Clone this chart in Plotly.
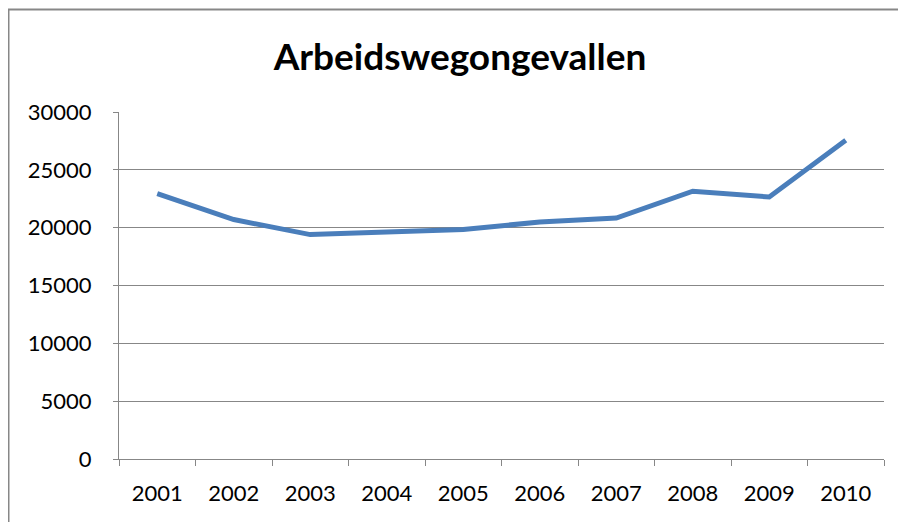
import plotly.graph_objects as go

years = ["2001", "2002", "2003", "2004", "2005", "2006", "2007", "2008", "2009", "2010"]
accidents = [22950, 20700, 19400, 19600, 19850, 20480, 20830, 23150, 22650, 27550]
y_ticks = [0, 5000, 10000, 15000, 20000, 25000, 30000]
title_text = "Arbeidswegongevallen"

W, H = 906, 522
OFF = 8  # page body margin applied by the browser
L, R, T, B = 119 - OFF, 884 - OFF, 112 - OFF, 459 - OFF
pw, ph = R - L, B - T

fig = go.Figure()
fig.add_trace(go.Scatter(
    x=years, y=accidents, mode="lines",
    line=dict(color="#4A7EBB", width=5),
    hoverinfo="x+y", showlegend=False,
))

gray = "#878787"
fig.update_layout(
    width=W, height=H,
    margin=dict(l=L, r=W - R, t=T, b=H - B, pad=0),
    paper_bgcolor="white", plot_bgcolor="white",
    font=dict(family="Lato, Carlito, Calibri, sans-serif", color="black", size=22),
    title=dict(text="<b>" + title_text + "</b>", x=(460 - OFF) / W, xref="container", xanchor="center",
               y=1 - (57 - OFF) / H, yref="container", yanchor="middle",
               font=dict(size=37, color="black")),
    xaxis=dict(type="category", tickson="boundaries", range=[-0.5, len(years) - 0.5],
               ticks="outside", ticklen=6, automargin=False, ticklabelstandoff=14,
               tickcolor=gray, tickwidth=1.3, showline=True, linecolor=gray, linewidth=1.3,
               showgrid=False, tickfont=dict(size=22)),
    yaxis=dict(range=[0, 30000], tickvals=y_ticks, ticktext=[str(v) for v in y_ticks],
               ticks="outside", ticklen=5, tickcolor=gray, tickwidth=1.3, automargin=False,
               ticklabelstandoff=17,
               showline=True, linecolor=gray, linewidth=1.3,
               showgrid=True, gridcolor=gray, gridwidth=1.3, zeroline=False,
               tickfont=dict(size=22)),
)

# outer chart border
fig.add_shape(type="rect", xref="paper", yref="paper",
              x0=(8.5 - OFF - L) / pw, x1=(912 - OFF - L) / pw,
              y0=(B - 530) / ph, y1=(B - (9.5 - OFF)) / ph,
              line=dict(color=gray, width=2), fillcolor="rgba(0,0,0,0)", layer="below")

fig.write_html("out.html")
